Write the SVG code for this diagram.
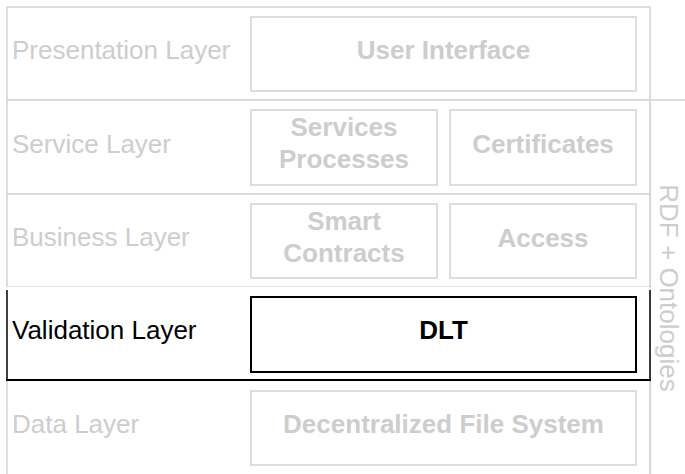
<svg xmlns="http://www.w3.org/2000/svg" width="685" height="474" viewBox="0 0 685 474">
<style>
.row{fill:#ffffff;stroke:#d3d3d3;stroke-width:1.5}
.box{fill:#ffffff;stroke:#d3d3d3;stroke-width:1.5}
.lbl{font-family:"Liberation Sans",Arial,sans-serif;font-size:26px;fill:#cdcdcd}
.bt{font-family:"Liberation Sans",Arial,sans-serif;font-size:26px;font-weight:bold;fill:#cdcdcd;text-anchor:middle}
.blk{stroke:#000000;fill:none}
</style>
<rect width="685" height="474" fill="#ffffff"/>
<g id="rdf">
<rect class="row" x="650" y="100" width="45" height="390"/>
<text class="lbl" transform="translate(660,288) rotate(90)" text-anchor="middle" font-size="27.5">RDF + Ontologies</text>
</g>
<g id="presentation-layer">
<rect class="row" x="7" y="7" width="643" height="93"/>
<text class="lbl" x="12" y="59">Presentation Layer</text>
</g>
<g id="service-layer">
<rect class="row" x="7" y="100" width="643" height="94"/>
<text class="lbl" x="12" y="153">Service Layer</text>
</g>
<g id="business-layer">
<rect class="row" x="7" y="194" width="643" height="93"/>
<text class="lbl" x="12" y="246">Business Layer</text>
</g>
<g id="validation-layer">
<rect x="7" y="287" width="643" height="93" fill="#ffffff" stroke="none"/>
<path class="blk" d="M7,290 V380 M650,290 V380" stroke-width="1.5"/>
<path class="blk" d="M6,380 H651" stroke-width="2"/>
<text class="lbl" x="12" y="339" style="fill:#000000">Validation Layer</text>
</g>
<g id="data-layer">
<path d="M7,381 V480 M650,381 V480" stroke="#d3d3d3" stroke-width="1.5" fill="none"/>
<text class="lbl" x="12" y="433">Data Layer</text>
</g>
<g id="user-interface">
<rect class="box" x="251" y="17" width="385" height="74"/>
<text class="bt" x="443.5" y="59">User Interface</text>
</g>
<g id="services-processes">
<rect class="box" x="251" y="110" width="186" height="75"/>
<text class="bt" x="344" y="136">Services</text>
<text class="bt" x="344" y="168">Processes</text>
</g>
<g id="certificates">
<rect class="box" x="450" y="110" width="186" height="75"/>
<text class="bt" x="543" y="153">Certificates</text>
</g>
<g id="smart-contracts">
<rect class="box" x="251" y="204" width="186" height="74"/>
<text class="bt" x="344" y="230">Smart</text>
<text class="bt" x="344" y="262">Contracts</text>
</g>
<g id="access">
<rect class="box" x="450" y="204" width="186" height="74"/>
<text class="bt" x="543" y="247">Access</text>
</g>
<g id="dlt">
<rect x="251" y="297" width="385" height="75" fill="#ffffff" stroke="#000000" stroke-width="2"/>
<text class="bt" x="443.5" y="339" style="fill:#000000">DLT</text>
</g>
<g id="decentralized-file-system">
<rect class="box" x="251" y="391" width="385" height="74"/>
<text class="bt" x="443.5" y="433">Decentralized File System</text>
</g>
<g id="connectors"></g>
</svg>
